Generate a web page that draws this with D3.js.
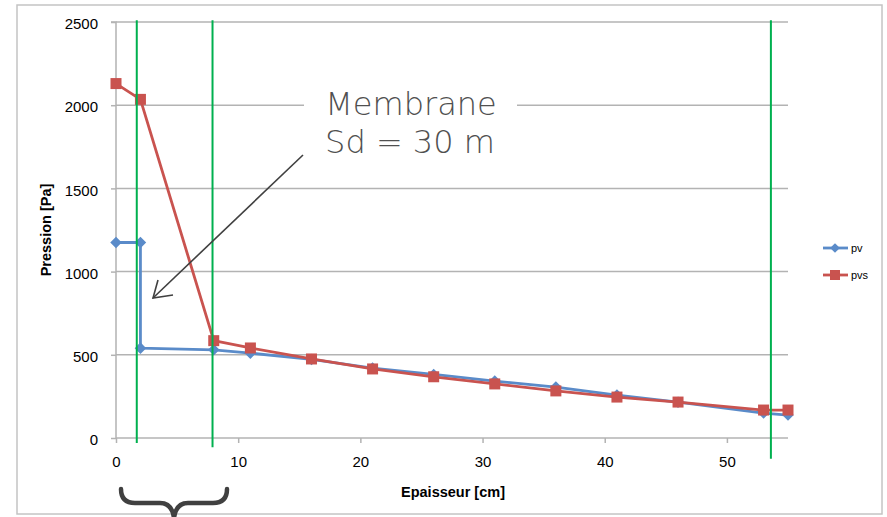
<!DOCTYPE html>
<html><head><meta charset="utf-8">
<script src="https://cdn.jsdelivr.net/npm/d3@7"></script>
<style>body{margin:0;background:#fff}svg{display:block}</style>
</head><body>
<svg id="c" width="887" height="517"></svg>
<script>
// ---- data ----
const pvX   = [0, 2, 2, 8, 11, 16, 21, 26, 31, 36, 41, 46, 53, 55];
const pvY   = [1175, 1175, 540, 530, 510, 472, 420, 382, 342, 306, 258, 215, 150, 138];
const pvsX  = [0, 2, 8, 11, 16, 21, 26, 31, 36, 41, 46, 53, 55];
const pvsY  = [2130, 2035, 585, 541, 475, 415, 368, 325, 283, 246, 216, 168, 168];
const yTicks = [0, 500, 1000, 1500, 2000, 2500];
const xTicks = [0, 10, 20, 30, 40, 50];
const layerBounds = [1.7, 7.9, 53.6];          // green vertical lines (cm)
const layerBottoms = [-30, -55, -125];         // where each green line stops (Pa)
const seriesNames = ["pv", "pvs"];
const annotation = ["Membrane", "Sd = 30 m"];

// ---- layout ----
const svg = d3.select("#c");
const x = d3.scaleLinear().domain([0, 55]).range([116, 788]);
const y = d3.scaleLinear().domain([0, 2500]).range([438, 22]);
const blue = "#5a8bc9", red = "#c9534f", green = "#00b04f";
const font = "'Liberation Sans', Arial, sans-serif";

// frame
svg.append("rect").attr("x", 17).attr("y", 5).attr("width", 865).attr("height", 509)
  .attr("fill", "none").attr("stroke", "#c4c4c4").attr("stroke-width", 1.5);

// grid
svg.append("g").selectAll("line").data(yTicks).join("line")
  .attr("x1", x(0)).attr("x2", x(55)).attr("y1", d => y(d)).attr("y2", d => y(d))
  .attr("stroke", "#b3b3b3").attr("stroke-width", 1.5);

// y axis
const ya = svg.append("g").attr("transform", `translate(${x(0)},0)`)
  .call(d3.axisLeft(y).tickValues(yTicks).tickSize(5).tickPadding(13).tickFormat(d3.format("d")));
ya.select(".domain").attr("stroke", "#b3b3b3").attr("stroke-width", 1.5).attr("d", `M-5,${y(2500)}H0V${y(0)}`);
ya.selectAll(".tick line").attr("stroke", "#b3b3b3").attr("stroke-width", 1.5);
ya.selectAll(".tick text").attr("font-family", font).attr("font-size", 15).attr("fill", "#000").attr("dy", "0.45em");

// x axis
const xa = svg.append("g").attr("transform", `translate(0,${y(0)})`)
  .call(d3.axisBottom(x).tickValues(xTicks).tickSize(5).tickPadding(13));
xa.select(".domain").remove();
xa.selectAll(".tick line").attr("stroke", "#b3b3b3").attr("stroke-width", 1.5);
xa.selectAll(".tick text").attr("font-family", font).attr("font-size", 15).attr("fill", "#000");

// axis titles
svg.append("text").attr("x", 453).attr("y", 497).attr("text-anchor", "middle")
  .attr("font-family", font).attr("font-weight", "bold").attr("font-size", 14.5).text("Epaisseur [cm]");
svg.append("text").attr("transform", "translate(51,230) rotate(-90)").attr("text-anchor", "middle")
  .attr("font-family", font).attr("font-weight", "bold").attr("font-size", 14.5).text("Pression [Pa]");

// series
const line = d3.line().x(d => x(d[0])).y(d => y(d[1]));
const pvData = pvX.map((v, i) => [v, pvY[i]]);
const pvsData = pvsX.map((v, i) => [v, pvsY[i]]);

svg.append("path").datum(pvData).attr("d", line).attr("fill", "none")
  .attr("stroke", blue).attr("stroke-width", 2.8).attr("stroke-linejoin", "round");
svg.append("g").selectAll("path").data(pvData).join("path")
  .attr("d", d3.symbol(d3.symbolDiamond2, 85)())
  .attr("transform", d => `translate(${x(d[0])},${y(d[1])})`).attr("fill", blue);

svg.append("path").datum(pvsData).attr("d", line).attr("fill", "none")
  .attr("stroke", red).attr("stroke-width", 2.8).attr("stroke-linejoin", "round");
svg.append("g").selectAll("rect").data(pvsData).join("rect")
  .attr("x", d => x(d[0]) - 5.5).attr("y", d => y(d[1]) - 5.5)
  .attr("width", 11).attr("height", 11).attr("fill", red);

// green layer boundaries
svg.append("g").selectAll("line").data(layerBounds).join("line")
  .attr("x1", d => x(d)).attr("x2", d => x(d))
  .attr("y1", y(2510)).attr("y2", (d, i) => y(layerBottoms[i]))
  .attr("stroke", green).attr("stroke-width", 2);

// legend
const lg = svg.append("g");
[[blue, 248, "diamond"], [red, 275, "square"]].forEach((s, i) => {
  lg.append("line").attr("x1", 823).attr("x2", 848).attr("y1", s[1]).attr("y2", s[1])
    .attr("stroke", s[0]).attr("stroke-width", 2.8);
  if (s[2] === "diamond")
    lg.append("path").attr("d", d3.symbol(d3.symbolDiamond2, 60)()).attr("transform", `translate(835,${s[1]})`).attr("fill", s[0]);
  else
    lg.append("rect").attr("x", 830).attr("y", s[1] - 5).attr("width", 10).attr("height", 10).attr("fill", s[0]);
  lg.append("text").attr("x", 851).attr("y", s[1] + 4).attr("font-family", font).attr("font-size", 11)
    .attr("fill", "#000").text(seriesNames[i]);
});

// annotation box
svg.append("rect").attr("x", 304).attr("y", 82).attr("width", 213).attr("height", 78).attr("fill", "#fff");
const ann = svg.append("text").attr("text-anchor", "middle").attr("fill", "#505050")
  .attr("font-family", "'DejaVu Sans', sans-serif").attr("font-weight", 200).attr("font-size", 32);
ann.append("tspan").attr("x", 411).attr("y", 115).text(annotation[0]);
ann.append("tspan").attr("x", 410).attr("y", 153).text(annotation[1]);

// arrow
svg.append("line").attr("x1", 303).attr("y1", 155).attr("x2", 153).attr("y2", 298)
  .attr("stroke", "#404040").attr("stroke-width", 1.6);
svg.append("path").attr("d", "M158,280 L153,298 L173,295").attr("fill", "none")
  .attr("stroke", "#404040").attr("stroke-width", 1.6).attr("stroke-linejoin", "miter");

// brace
svg.append("path")
  .attr("d", "M121,489 Q121,503 135,503 L160,503 Q172,503 174,518 Q176,503 188,503 L213,503 Q227,503 227,489")
  .attr("fill", "none").attr("stroke", "#404040").attr("stroke-width", 4.5).attr("stroke-linecap", "round");
</script>
</body></html>
